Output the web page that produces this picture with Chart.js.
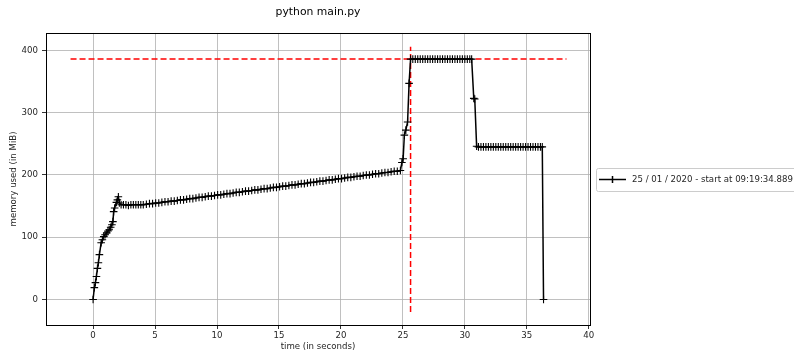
<!DOCTYPE html>
<html lang="en">
  <head>
    <meta charset="UTF-8" />
    <title>python main.py</title>
    <script src="https://cdn.jsdelivr.net/npm/chart.js"></script>
    <style>
      html, body { margin: 0; padding: 0; background: #fff; }
      #wrap { width: 794px; height: 354px; }
    </style>
  </head>
  <body>
    <div id="wrap"><canvas id="memChart"></canvas></div>
    <script>
      const titleText = "python main.py";
      const seriesLabel = "25 / 01 / 2020 - start at 09:19:34.889";

      // sample times (s)
      const times = [
        0.00, 0.10, 0.19, 0.27, 0.35, 0.43, 0.51, 0.65, 0.75, 0.86, 0.97, 1.10, 1.20, 1.30, 1.42, 1.52,
        1.60, 1.66, 1.74, 1.88, 1.96, 2.04, 2.12, 2.26, 2.45, 2.65, 2.85, 3.05, 3.25, 3.45, 3.65, 3.85,
        4.05, 4.30, 4.55, 4.80, 5.05, 5.30, 5.55, 5.80, 6.05, 6.30, 6.55, 6.80, 7.05, 7.30, 7.55, 7.80,
        8.05, 8.30, 8.55, 8.80, 9.05, 9.30, 9.55, 9.80, 10.05, 10.30, 10.55, 10.80, 11.05, 11.30, 11.55, 11.80,
        12.05, 12.30, 12.55, 12.80, 13.05, 13.30, 13.55, 13.80, 14.05, 14.30, 14.55, 14.80, 15.05, 15.30, 15.55, 15.80,
        16.05, 16.30, 16.55, 16.80, 17.05, 17.30, 17.55, 17.80, 18.05, 18.30, 18.55, 18.80, 19.05, 19.30, 19.55, 19.80,
        20.05, 20.30, 20.55, 20.80, 21.05, 21.30, 21.55, 21.80, 22.05, 22.30, 22.55, 22.80, 23.05, 23.30, 23.55, 23.80,
        24.05, 24.30, 24.55, 24.80, 24.92, 25.02, 25.12, 25.24, 25.38, 25.50, 25.62,
        25.80, 26.00, 26.20, 26.40, 26.60, 26.80, 27.00, 27.20, 27.40, 27.60, 27.80, 28.00, 28.20, 28.40, 28.60, 28.80,
        29.00, 29.20, 29.40, 29.60, 29.80, 30.00, 30.20, 30.40, 30.55, 30.72, 30.80, 30.95,
        31.10, 31.30, 31.50, 31.70, 31.90, 32.10, 32.30, 32.50, 32.70, 32.90, 33.10, 33.30, 33.50, 33.70, 33.90,
        34.10, 34.30, 34.50, 34.70, 34.90, 35.10, 35.30, 35.50, 35.70, 35.90, 36.10, 36.25, 36.35
      ];

      // memory used (MiB) at each sample
      const memory = [
        0, 19, 27, 37, 50, 59, 72, 91, 96, 101, 104, 107, 110, 112, 116, 120,
        125, 141, 147, 156, 160, 165, 155, 152, 152, 152, 151, 152, 152, 152, 152, 152,
        152, 153, 154, 154, 155, 155, 156, 157, 157, 158, 158, 159, 160, 160, 161, 162,
        162, 163, 164, 164, 165, 166, 166, 167, 168, 168, 169, 170, 170, 171, 172, 172,
        173, 174, 174, 175, 176, 176, 177, 178, 178, 179, 180, 180, 181, 182, 182, 183,
        184, 184, 185, 186, 186, 187, 188, 188, 189, 190, 190, 191, 192, 192, 193, 194,
        194, 195, 196, 196, 197, 198, 198, 199, 200, 200, 201, 202, 202, 203, 204, 204,
        205, 206, 206, 207, 220, 226, 264, 272, 285, 347, 386,
        386, 386, 386, 386, 386, 386, 386, 386, 386, 386, 386, 386, 386, 386, 386, 386,
        386, 386, 386, 386, 386, 386, 386, 386, 386, 323, 322, 246,
        245, 245, 245, 245, 245, 245, 245, 245, 245, 245, 245, 245, 245, 245, 245,
        245, 245, 245, 245, 245, 245, 245, 245, 245, 245, 245, 245, 0
      ];

      // peak markers (red dashed)
      const peakMem = 386;
      const peakTime = 25.62;
      const peakLineX = [-1.82, 38.2];
      const peakLineY = [-20, 406];

      // axis limits and ticks
      const xMin = -3.8, xMax = 40.1, xStep = 5;
      const yMin = -41, yMax = 428, yStep = 100;

      const FONT = "'DejaVu Sans', sans-serif";
      const textColor = "#262626";
      const smallSize = 8.6;

      const points = times.map((t, i) => ({ x: t, y: memory[i] }));

      const framePlugin = {
        id: "frame",
        afterDraw(chart) {
          const { ctx, chartArea: a } = chart;
          ctx.save();
          ctx.strokeStyle = "#000";
          ctx.lineWidth = 1;
          ctx.strokeRect(Math.round(a.left) + 0.5, Math.round(a.top) + 0.5,
            Math.round(a.right - a.left), Math.round(a.bottom - a.top));

          // legend box on the right
          const lx = 596, ly = 168, lw = 200, lh = 23;
          ctx.fillStyle = "rgba(255,255,255,0.8)";
          ctx.strokeStyle = "#cccccc";
          ctx.beginPath();
          ctx.roundRect(lx + 0.5, ly + 0.5, lw, lh, 2);
          ctx.fill();
          ctx.stroke();
          ctx.strokeStyle = "#000";
          ctx.lineWidth = 1.5;
          ctx.beginPath();
          ctx.moveTo(599, ly + 11.5);
          ctx.lineTo(626, ly + 11.5);
          ctx.moveTo(612.5, ly + 8);
          ctx.lineTo(612.5, ly + 15);
          ctx.stroke();
          ctx.fillStyle = textColor;
          ctx.font = smallSize + "px " + FONT;
          ctx.textBaseline = "middle";
          ctx.fillText(chart.data.datasets[0].label, 632, ly + 12);
          ctx.restore();
        },
      };

      const ctx = document.getElementById("memChart").getContext("2d");
      new Chart(ctx, {
        type: "scatter",
        data: {
          datasets: [
            {
              label: seriesLabel,
              data: points,
              showLine: true,
              borderColor: "#000",
              backgroundColor: "#000",
              borderWidth: 1.5,
              pointStyle: "cross",
              pointRadius: 3.8,
              pointBorderWidth: 1.1,
              pointHoverRadius: 3.8,
              order: 0,
            },
            {
              label: "peak",
              data: peakLineX.map((x) => ({ x: x, y: peakMem })),
              showLine: true,
              borderColor: "#ff0000",
              borderWidth: 1.5,
              borderDash: [6, 3],
              pointRadius: 0,
              order: 1,
            },
            {
              label: "peak time",
              data: peakLineY.map((y) => ({ x: peakTime, y: y })),
              showLine: true,
              borderColor: "#ff0000",
              borderWidth: 1.5,
              borderDash: [6, 3],
              pointRadius: 0,
              order: 1,
            },
          ],
        },
        options: {
          responsive: true,
          maintainAspectRatio: false,
          animation: false,
          layout: { padding: { left: 0, right: 204, top: 0, bottom: 0 } },
          plugins: {
            legend: { display: false },
            tooltip: { enabled: false },
            title: {
              display: true,
              text: titleText,
              fullSize: false,
              color: "#000",
              font: { family: FONT, size: 10.8, weight: "normal" },
              padding: { top: 6, bottom: 14 },
            },
          },
          scales: {
            x: {
              type: "linear",
              min: xMin,
              max: xMax,
              afterFit: (s) => { s.height = 29; },
              border: { display: false },
              grid: { color: "#b0b0b0", lineWidth: 0.8, tickLength: 4, tickColor: "#000" },
              ticks: {
                stepSize: xStep,
                includeBounds: false,
                color: textColor,
                padding: 2,
                maxRotation: 0,
                font: { family: FONT, size: smallSize },
              },
              title: {
                display: true,
                text: "time (in seconds)",
                color: textColor,
                font: { family: FONT, size: smallSize },
                padding: { top: 0, bottom: 2 },
              },
            },
            y: {
              type: "linear",
              min: yMin,
              max: yMax,
              afterFit: (s) => { s.width = 46; },
              border: { display: false },
              grid: { color: "#b0b0b0", lineWidth: 0.8, tickLength: 4, tickColor: "#000" },
              ticks: {
                stepSize: yStep,
                includeBounds: false,
                color: textColor,
                padding: 4,
                font: { family: FONT, size: smallSize },
              },
              title: {
                display: true,
                text: "memory used (in MiB)",
                color: textColor,
                font: { family: FONT, size: smallSize },
                padding: { top: 9, bottom: 0 },
              },
            },
          },
        },
        plugins: [framePlugin],
      });
    </script>
  </body>
</html>
